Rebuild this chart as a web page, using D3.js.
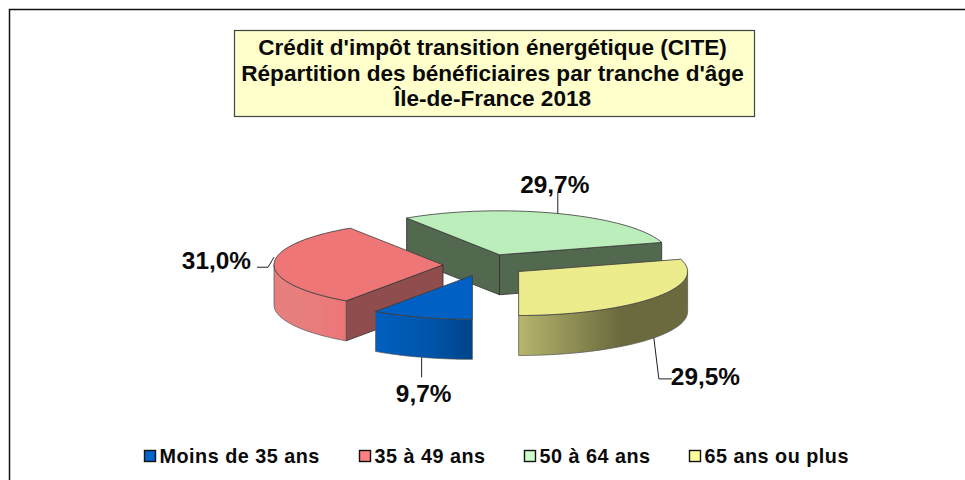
<!DOCTYPE html>
<html><head><meta charset="utf-8">
<script src="https://d3js.org/d3.v7.min.js"></script>
<style>html,body{margin:0;padding:0;background:#fff}svg{display:block}text{font-family:"Liberation Sans",Arial,sans-serif;font-weight:bold;fill:#0a0a0a}</style>
</head><body><svg id="c" width="965" height="480"></svg>
<script>
const categories=["Moins de 35 ans","35 à 49 ans","50 à 64 ans","65 ans ou plus"];
const values=[9.7,31.0,29.7,29.5];
const valueLabels=["9,7%","31,0%","29,7%","29,5%"];
const titleLines=["Crédit d'impôt transition énergétique (CITE)","Répartition des bénéficiaires par tranche d'âge","Île-de-France 2018"];
const topColors=["#0060c4","#ee7676","#bbeebb","#ecec8c"];
const legendColors=["#0066cc","#ff8080","#ccffcc","#ffff99"];
const faceColors=["#004a96","#8f4d4d","#53694f","#6a6a3e"];
const rimStops=[[["0","#005fbf"],["0.55","#0055aa"],["1","#00448a"]],
                [["0","#e67f7f"],["0.6","#e97c7c"],["1","#ec7676"]],
                [["0","#53694f"],["1","#53694f"]],
                [["0","#b6b66e"],["0.6","#6a6a3e"],["1","#6a6a3e"]]];

const cx=485,cy=265,R=169,k=0.26,depth=40,explode=42;
const svg=d3.select("#c");
const defs=svg.append("defs");

// frame
svg.append("path").attr("d","M9.5,480V9.5H965").attr("fill","none").attr("stroke","#111").attr("stroke-width",1.5);

// title
svg.append("rect").attr("x",234.5).attr("y",30.5).attr("width",520).attr("height",86).attr("fill","#ffffcc").attr("stroke","#444").attr("stroke-width",1.2);
svg.selectAll("text.t").data(titleLines).join("text").attr("class","t").attr("x",492.5).attr("y",(d,i)=>55+i*25.5)
 .attr("text-anchor","middle").attr("font-size",22.6).text(d=>d);

// pie: clockwise from 6 o'clock
const arcs=d3.pie().sort(null).startAngle(Math.PI).endAngle(3*Math.PI)(values);
const rs=d3.scaleLinear().domain([0,1]).range([0,R]);
const P=(o,a,r,z=0)=>[o[0]+rs(r)*Math.sin(a),o[1]-k*rs(r)*Math.cos(a)+z];
const line=d3.line();
const arcPts=(o,a0,a1,z)=>d3.range(0,41).map(i=>P(o,a0+(a1-a0)*i/40,1,z));

const order=[2,1,0,3];
const origin=arcs.map(d=>{const m=(d.startAngle+d.endAngle)/2;return [cx+explode*Math.sin(m),cy-k*explode*Math.cos(m)];});

order.forEach(i=>{
  const d=arcs[i],o=origin[i],g=svg.append("g");
  const a0=d.startAngle,a1=d.endAngle;
  // radial faces
  [[a0,Math.sin(a0)<-1e-6],[a1,Math.sin(a1)>1e-6]].forEach(([a,vis])=>{
    if(!vis)return;
    const p=P(o,a,1);
    g.append("path").attr("d",line([o,p,[p[0],p[1]+depth],[o[0],o[1]+depth]])+"Z")
     .attr("fill",faceColors[i]).attr("stroke","#2c2c2c").attr("stroke-width",0.8).attr("stroke-linejoin","round");
  });
  // rim (front half only, in either turn of the sweep)
  [[0.5,1.5],[2.5,3.5]].forEach(([lo,hi])=>{
    const v0=Math.max(a0,lo*Math.PI),v1=Math.min(a1,hi*Math.PI);
    if(v1<=v0)return;
    const top=arcPts(o,v0,v1,0),bot=arcPts(o,v1,v0,depth);
    const xs=top.map(p=>p[0]),id="rim"+i;
    const gr=defs.append("linearGradient").attr("id",id).attr("gradientUnits","userSpaceOnUse")
      .attr("x1",d3.min(xs)).attr("x2",d3.max(xs)).attr("y1",0).attr("y2",0);
    rimStops[i].forEach(s=>gr.append("stop").attr("offset",s[0]).attr("stop-color",s[1]));
    g.append("path").attr("d",line(top.concat(bot))+"Z").attr("fill",`url(#${id})`)
     .attr("stroke","#555").attr("stroke-width",0.7).attr("stroke-linejoin","round");
  });
  // top
  g.append("path").attr("d",line([o].concat(arcPts(o,a0,a1,0)))+"Z").attr("fill",topColors[i])
   .attr("stroke","#3a3a3a").attr("stroke-width",0.8).attr("stroke-linejoin","round");
});

// leaders and value labels
const leaderLayout=[
  {z:depth,path:[[0,0],[0,20]],tx:2,ty:45,a:"middle"},
  {z:-7,path:[[0,0],[-6,10],[-17,10]],tx:-23,ty:12,a:"end"},
  {z:0,path:[[0,0],[0,-21]],tx:-3,ty:-21,a:"middle"},
  {z:depth,path:[[0,0],[5,41],[18,41]],tx:17,ty:47,a:"start"}];
arcs.forEach((d,i)=>{
  const m=(d.startAngle+d.endAngle)/2,l=leaderLayout[i],p=P(origin[i],m,1,l.z);
  svg.append("path").attr("d",line(l.path.map(q=>[p[0]+q[0],p[1]+q[1]]))).attr("fill","none").attr("stroke","#222").attr("stroke-width",1);
  svg.append("text").attr("x",p[0]+l.tx).attr("y",p[1]+l.ty).attr("text-anchor",l.a).attr("font-size",24.4).text(valueLabels[i]);
});

// legend
const legendX=[144,359,524,689];
categories.forEach((c,i)=>{
  svg.append("rect").attr("x",legendX[i]+.5).attr("y",450.5).attr("width",11).attr("height",11).attr("fill",legendColors[i]).attr("stroke","#111").attr("stroke-width",1.4);
  svg.append("text").attr("x",legendX[i]+15.5).attr("y",462.5).attr("font-size",19.8).attr("letter-spacing",0.5).text(c);
});
</script></body></html>
